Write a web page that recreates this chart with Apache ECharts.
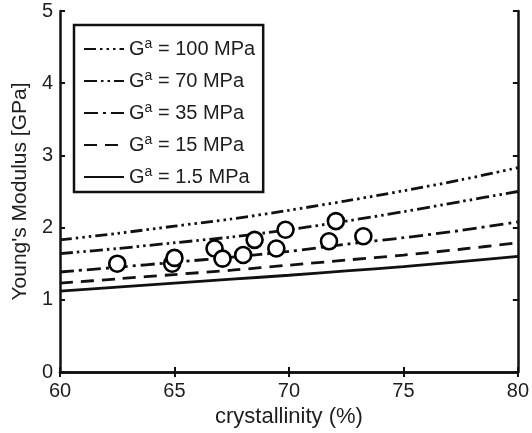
<!DOCTYPE html>
<html>
<head>
<meta charset="utf-8">
<script src="https://cdn.jsdelivr.net/npm/echarts@6/dist/echarts.min.js"></script>
<style>html,body{margin:0;padding:0;background:#fff}#c{width:532px;height:433px}</style>
</head>
<body>
<div id="c"></div>
<script>
const xGrid = [60, 62.5, 65, 67.5, 70, 72.5, 75, 77.5, 80];
const g100 = [1.83, 1.92, 2.02, 2.12, 2.24, 2.37, 2.51, 2.66, 2.83];
const g70  = [1.64, 1.71, 1.79, 1.87, 1.97, 2.09, 2.22, 2.36, 2.50];
const g35  = [1.385, 1.45, 1.52, 1.59, 1.67, 1.77, 1.86, 1.96, 2.08];
const g15  = [1.23, 1.29, 1.35, 1.41, 1.48, 1.55, 1.62, 1.70, 1.79];
const g1_5 = [1.12, 1.175, 1.23, 1.285, 1.34, 1.40, 1.46, 1.53, 1.60];
const expX = [62.5, 64.9, 65.0, 66.75, 67.1, 68.0, 68.5, 69.45, 69.85, 71.75, 72.05, 73.25];
const expY = [1.50, 1.50, 1.58, 1.71, 1.57, 1.62, 1.83, 1.71, 1.97, 1.81, 2.09, 1.88];
const seriesNames = ['100 MPa', '70 MPa', '35 MPa', '15 MPa', '1.5 MPa'];
const xTicks = [60, 65, 70, 75, 80];
const yTicks = [0, 1, 2, 3, 4, 5];

const FONT = 'Liberation Sans, Arial, sans-serif';
const TXT = '#1e1e1e';
const pair = (xs, ys) => xs.map((x, i) => [x, ys[i]]);
const curves = [g100, g70, g35, g15, g1_5];
const dashes = [[12,4,2.5,4,2.5,4,2.5,4],[13,4,2.5,4,2.5,4],[14,5,3,5],[13,8],'solid'];

const chart = echarts.init(document.getElementById('c'), null, {renderer: 'canvas'});
const axisCommon = {
  axisLine: {show: true, lineStyle: {color: '#111', width: 2.5}},
  axisTick: {show: true, inside: true, length: 5, lineStyle: {color: '#111', width: 2}},
  splitLine: {show: false}
};
const option = {
  animation: false,
  backgroundColor: '#fff',
  grid: {left: 60, right: 10, top: 11, bottom: 60, containLabel: false},
  xAxis: [
    Object.assign({type: 'value', min: 60, max: 80, interval: 5, position: 'bottom',
      name: 'crystallinity (%)', nameLocation: 'middle', nameGap: 34,
      nameTextStyle: {fontFamily: FONT, fontSize: 22, color: TXT},
      axisLabel: {fontFamily: FONT, fontSize: 20, color: TXT, margin: 9,
        formatter: v => xTicks.includes(v) ? String(v) : ''}}, axisCommon),
    Object.assign({type: 'value', min: 60, max: 80, interval: 5, position: 'top',
      axisLabel: {show: false}}, axisCommon)
  ],
  yAxis: [
    Object.assign({type: 'value', min: 0, max: 5, interval: 1, position: 'left',
      name: "Young's Modulus [GPa]", nameLocation: 'middle', nameGap: 25,
      nameTextStyle: {fontFamily: FONT, fontSize: 21, color: TXT},
      axisLabel: {fontFamily: FONT, fontSize: 20, color: TXT, margin: 7,
        formatter: v => yTicks.includes(v) ? String(v) : ''}}, axisCommon),
    Object.assign({type: 'value', min: 0, max: 5, interval: 1, position: 'right',
      axisLabel: {show: false}}, axisCommon)
  ],
  legend: {
    data: seriesNames,
    orient: 'vertical', left: 74, top: 25,
    padding: [12, 8, 3, 9],
    itemWidth: 40, itemHeight: 14, itemGap: 8,
    borderColor: '#111', borderWidth: 2.5, backgroundColor: '#fff',
    itemStyle: {color: 'rgba(0,0,0,0)', borderWidth: 0},
    formatter: n => '{g|G}{sup|a}{g| = ' + n + '}',
    textStyle: {
      fontFamily: FONT, fontSize: 20, color: TXT,
      rich: {
        g: {fontFamily: FONT, fontSize: 20, color: TXT, lineHeight: 20},
        sup: {fontFamily: FONT, fontSize: 14, color: TXT, lineHeight: 20, padding: [0, 0, 10, 0]}
      }
    }
  },
  series: curves.map((c, i) => ({
    name: seriesNames[i], type: 'line', data: pair(xGrid, c), smooth: 0.3,
    symbol: 'none', z: 2,
    lineStyle: {color: '#111', width: 2.8, type: dashes[i]},
    itemStyle: {color: '#111'}
  })).concat([{
    name: 'exp', type: 'scatter', data: pair(expX, expY), symbol: 'circle', symbolSize: 16, z: 5,
    itemStyle: {color: '#fff', borderColor: '#000', borderWidth: 2.6, opacity: 1}
  }])
};
chart.setOption(option);
</script>
</body>
</html>
